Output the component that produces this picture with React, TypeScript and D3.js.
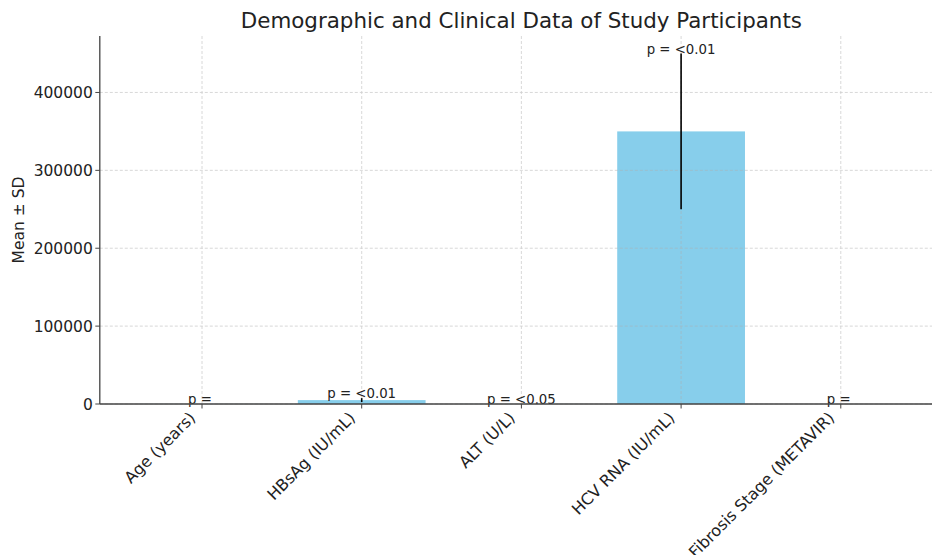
import * as d3 from 'd3'
import { useEffect, useRef } from 'react'

const categories = ['Age (years)', 'HBsAg (IU/mL)', 'ALT (U/L)', 'HCV RNA (IU/mL)', 'Fibrosis Stage (METAVIR)']
const means = [45, 5000, 50, 350000, 2]
const sds = [10, 2500, 20, 100000, 1]
const pLabels = ['p = ', 'p = <0.01', 'p = <0.05', 'p = <0.01', 'p = ']
const yTicks = [0, 100000, 200000, 300000, 400000]

const W = 932
const H = 555
const FONT = 'DejaVu Sans, sans-serif'

const App = () => {
  const ref = useRef<SVGSVGElement>(null)

  useEffect(() => {
    const svg = d3.select(ref.current)
    svg.selectAll('*').remove()

    const left = 99.8
    const right = 943
    const top = 36
    const bottom = 404

    // matplotlib-style limits: bar width 0.8, 5% margins
    const x = d3.scaleLinear().domain([-0.64, 4.64]).range([left, right])
    const yMax = d3.max(means.map((m, i) => m + sds[i])) as number
    const y = d3.scaleLinear().domain([0, yMax * 1.05]).range([bottom, top])
    const bw = x(0.4) - x(-0.4)

    // bars
    svg.append('g')
      .selectAll('rect')
      .data(means)
      .join('rect')
      .attr('x', (_, i) => x(i) - bw / 2)
      .attr('y', (d) => y(d))
      .attr('width', bw)
      .attr('height', (d) => bottom - y(d))
      .attr('fill', '#87ceeb')

    // grid on top of bars
    const grid = svg.append('g')
      .attr('stroke', '#b0b0b0')
      .attr('stroke-width', 0.8)
      .attr('stroke-dasharray', '3,2')
      .attr('opacity', 0.6)
    grid.selectAll('.gx')
      .data(categories)
      .join('line')
      .attr('x1', (_, i) => x(i))
      .attr('x2', (_, i) => x(i))
      .attr('y1', top)
      .attr('y2', bottom)
    grid.selectAll('.gy')
      .data(yTicks)
      .join('line')
      .attr('x1', left)
      .attr('x2', right)
      .attr('y1', (d) => y(d))
      .attr('y2', (d) => y(d))

    // error bars
    svg.append('g')
      .selectAll('line')
      .data(means)
      .join('line')
      .attr('x1', (_, i) => x(i))
      .attr('x2', (_, i) => x(i))
      .attr('y1', (d, i) => y(Math.max(0, d - sds[i])))
      .attr('y2', (d, i) => y(d + sds[i]))
      .attr('stroke', '#000')
      .attr('stroke-width', 1.6)

    // p-value labels
    svg.append('g')
      .selectAll('text')
      .data(pLabels)
      .join('text')
      .attr('x', (_, i) => x(i))
      .attr('y', (_, i) => y(means[i] + sds[i]))
      .attr('text-anchor', 'middle')
      .attr('font-family', FONT)
      .attr('font-size', 13.3)
      .attr('fill', '#222')
      .style('white-space', 'pre')
      .text((d) => d)

    // spines
    svg.append('line')
      .attr('x1', left).attr('x2', left)
      .attr('y1', top).attr('y2', bottom)
      .attr('stroke', '#444').attr('stroke-width', 1.3)
    svg.append('line')
      .attr('x1', left).attr('x2', right)
      .attr('y1', bottom).attr('y2', bottom)
      .attr('stroke', '#444').attr('stroke-width', 1.3)

    // y axis ticks
    const yt = svg.append('g')
    yt.selectAll('line')
      .data(yTicks)
      .join('line')
      .attr('x1', left - 4.5).attr('x2', left)
      .attr('y1', (d) => y(d)).attr('y2', (d) => y(d))
      .attr('stroke', '#444').attr('stroke-width', 1)
    yt.selectAll('text')
      .data(yTicks)
      .join('text')
      .attr('x', left - 7)
      .attr('y', (d) => y(d))
      .attr('dy', '0.36em')
      .attr('text-anchor', 'end')
      .attr('font-family', FONT)
      .attr('font-size', 15.5)
      .attr('fill', '#222')
      .text((d) => String(d))

    // x axis ticks + rotated labels (the long last one runs off the bottom, as in the source)
    const xt = svg.append('g')
    xt.selectAll('line')
      .data(categories)
      .join('line')
      .attr('x1', (_, i) => x(i)).attr('x2', (_, i) => x(i))
      .attr('y1', bottom).attr('y2', bottom + 4.5)
      .attr('stroke', '#444').attr('stroke-width', 1)
    xt.selectAll('text')
      .data(categories)
      .join('text')
      .attr('transform', (_, i) => `translate(${x(i) - 5.5},${bottom + 14.8}) rotate(-45)`)
      .attr('text-anchor', 'end')
      .attr('font-family', FONT)
      .attr('font-size', 16)
      .attr('fill', '#222')
      .text((d) => d)

    // y label
    svg.append('text')
      .attr('transform', `translate(24,${(top + bottom) / 2}) rotate(-90)`)
      .attr('text-anchor', 'middle')
      .attr('font-family', FONT)
      .attr('font-size', 15.5)
      .attr('fill', '#222')
      .text('Mean ± SD')

    // title
    svg.append('text')
      .attr('x', (left + right) / 2)
      .attr('y', 28)
      .attr('text-anchor', 'middle')
      .attr('font-family', FONT)
      .attr('font-size', 21.4)
      .attr('fill', '#222')
      .text('Demographic and Clinical Data of Study Participants')
  }, [])

  return (
    <svg
      ref={ref}
      width={W}
      height={H}
      style={{ position: 'absolute', left: 0, top: 0, background: '#fff' }}
    />
  )
}

export default App
